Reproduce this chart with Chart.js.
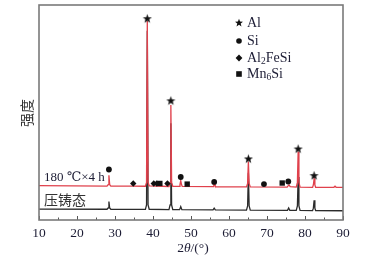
<!DOCTYPE html>
<html>
<head>
<meta charset="utf-8">
<script src="https://cdn.jsdelivr.net/npm/chart.js@4/dist/chart.umd.min.js"></script>
<style>
  html, body { margin: 0; padding: 0; background: #fff; }
  #xrd { display: block; }
</style>
</head>
<body>
<canvas id="xrd" width="387" height="260"></canvas>
<script>
// ── XRD data ───────────────────────────────────────────────
// 180 ℃×4 h (red) pattern
const heatTheta = [10, 27.9, 28.2, 28.4, 28.6, 28.9, 34.5, 38.0, 38.3, 38.5, 38.7, 39.0, 44.2, 44.5, 44.7, 44.9, 45.2,
  46.9, 47.1, 47.3, 47.5, 47.7, 55.8, 56.0, 56.15, 56.3, 56.5, 64.6, 64.9, 65.1, 65.3, 65.6,
  75.3, 75.6, 75.8, 76.1, 77.7, 78.0, 78.2, 78.4, 78.7, 82.0, 82.2, 82.4, 82.6, 82.8, 87.6, 87.9, 88.2, 90];
const heatI = [16.0, 15.8, 16.5, 20.8, 16.5, 15.8, 15.8, 15.7, 17.5, 92.5, 17.5, 15.9, 15.6, 17.5, 53.5, 17.5, 15.7,
  15.6, 16.5, 18.3, 16.5, 15.6, 15.5, 16.3, 17.0, 16.3, 15.5, 15.4, 17.0, 27.2, 17.0, 15.4,
  15.3, 16.0, 16.3, 15.5, 15.3, 17.5, 31.8, 17.5, 15.3, 15.2, 16.3, 19.2, 16.3, 15.2, 15.2, 15.7, 15.2, 15.2];

// 压铸态 (black) pattern
const castTheta = [10, 27.9, 28.2, 28.4, 28.6, 28.9, 38.0, 38.3, 38.5, 38.7, 39.0, 44.2, 44.5, 44.7, 44.9, 45.2,
  47.0, 47.3, 47.6, 55.8, 56.1, 56.4, 64.6, 64.9, 65.1, 65.3, 65.6, 75.4, 75.7, 76.0,
  77.7, 78.0, 78.2, 78.4, 78.7, 82.0, 82.2, 82.4, 82.6, 82.8, 90];
const castI = [5.1, 5.0, 5.6, 8.6, 5.6, 5.0, 4.9, 7.0, 88, 7.0, 5.0, 4.8, 7.0, 45, 7.0, 4.8,
  4.8, 6.2, 4.8, 4.7, 5.5, 4.7, 4.6, 6.5, 22, 6.5, 4.6, 4.5, 5.6, 4.5,
  4.5, 6.5, 20, 6.5, 4.5, 4.4, 5.5, 9.2, 5.5, 4.4, 4.3];

// phase markers
const alTheta = [38.5, 44.7, 65.1, 78.2, 82.4];
const alI     = [93.6, 55.4, 28.4, 33.0, 20.6];
const siTheta = [28.4, 47.3, 56.1, 69.2, 75.6];
const siI     = [23.5, 20.0, 17.7, 16.7, 17.9];
const feTheta = [34.8, 40.2, 41.0, 43.8];
const feI     = [17.0, 17.0, 17.0, 17.0];
const mnTheta = [41.8, 49.0, 74.0];
const mnI     = [17.0, 16.7, 17.2];

const xTicks = [10, 20, 30, 40, 50, 60, 70, 80, 90];
const xMinorTicks = [15, 25, 35, 45, 55, 65, 75, 85];

const SERIF = "'Liberation Serif', 'DejaVu Serif', serif";
const CJK = "'Noto Sans CJK SC', sans-serif";
const TEXT = '#1d1d35';

// ── Filled five-point star for Al ──────────────────────────
function makeStar(size, outer, inner) {
  const c = document.createElement('canvas');
  c.width = size; c.height = size;
  const g = c.getContext('2d');
  drawStar(g, size / 2, size / 2, outer, inner);
  return c;
}
function drawStar(g, cx, cy, outer, inner) {
  g.beginPath();
  for (let i = 0; i < 10; i++) {
    const r = i % 2 === 0 ? outer : inner;
    const a = -Math.PI / 2 + i * Math.PI / 5;
    const px = cx + r * Math.cos(a), py = cy + r * Math.sin(a);
    if (i === 0) g.moveTo(px, py); else g.lineTo(px, py);
  }
  g.closePath();
  g.fillStyle = '#111';
  g.fill();
}
const starImg = makeStar(11, 4.8, 2.0);

const pts = (xs, ys) => xs.map((x, i) => ({ x, y: ys[i] }));

function markerSet(xs, ys, style, radius) {
  return {
    data: pts(xs, ys),
    showLine: false,
    pointStyle: style,
    pointRadius: radius,
    pointBackgroundColor: '#111',
    pointBorderColor: '#111',
    pointBorderWidth: 0,
    order: 0,
  };
}

// ── Frame, inward ticks, titles, labels and legend ──────────
const decor = {
  id: 'decor',
  afterDraw(chart) {
    const { ctx, chartArea: a, scales: { x } } = chart;
    ctx.save();
    // inward ticks on the bottom axis
    ctx.strokeStyle = '#555';
    ctx.lineWidth = 1;
    xTicks.forEach(v => {
      const px = Math.round(x.getPixelForValue(v)) + 0.5;
      ctx.beginPath(); ctx.moveTo(px, a.bottom); ctx.lineTo(px, a.bottom - 4); ctx.stroke();
    });
    xMinorTicks.forEach(v => {
      const px = Math.round(x.getPixelForValue(v)) + 0.5;
      ctx.beginPath(); ctx.moveTo(px, a.bottom); ctx.lineTo(px, a.bottom - 2.5); ctx.stroke();
    });
    // frame
    ctx.strokeStyle = '#7a7a7a';
    ctx.lineWidth = 1.6;
    ctx.strokeRect(a.left, a.top, a.right - a.left, a.bottom - a.top);

    // x title 2θ/(°)
    ctx.fillStyle = TEXT;
    ctx.textBaseline = 'middle';
    const parts = [['2', ''], ['θ', 'italic '], ['/(°)', '']];
    let w = 0;
    parts.forEach(([t, s]) => { ctx.font = s + '13.5px ' + SERIF; w += ctx.measureText(t).width; });
    let tx = (a.left + a.right) / 2 - w / 2 + 2;
    parts.forEach(([t, s]) => {
      ctx.font = s + '13.5px ' + SERIF;
      ctx.textAlign = 'left';
      ctx.fillText(t, tx, 248);
      tx += ctx.measureText(t).width;
    });

    // y title 强度
    ctx.save();
    ctx.translate(27, 113);
    ctx.rotate(-Math.PI / 2);
    ctx.font = '14px ' + CJK;
    ctx.textAlign = 'center';
    ctx.fillStyle = '#333';
    ctx.fillText('强度', 0, 0);
    ctx.restore();

    // curve labels
    ctx.textAlign = 'left';
    ctx.font = '13px ' + SERIF;
    ctx.fillStyle = TEXT;
    ctx.fillText('180 ℃×4 h', 44, 178);
    ctx.font = '14px ' + CJK;
    ctx.fillStyle = '#333';
    ctx.fillText('压铸态', 44, 200);

    // legend
    const lx = 239, tx0 = 247;
    const rows = [
      { y: 23, label: [['Al', 0]] },
      { y: 41, label: [['Si', 0]] },
      { y: 58, label: [['Al', 0], ['2', 1], ['FeSi', 0]] },
      { y: 74, label: [['Mn', 0], ['6', 1], ['Si', 0]] },
    ];
    ctx.fillStyle = '#111';
    drawStar(ctx, lx, 23, 4.2, 1.8);
    ctx.beginPath(); ctx.arc(lx, 41, 2.8, 0, Math.PI * 2); ctx.fill();
    ctx.beginPath();
    ctx.moveTo(lx, 58 - 3.4); ctx.lineTo(lx + 3.4, 58); ctx.lineTo(lx, 58 + 3.4); ctx.lineTo(lx - 3.4, 58);
    ctx.closePath(); ctx.fill();
    ctx.fillRect(lx - 2.8, 74 - 2.8, 5.6, 5.6);
    rows.forEach(r => {
      let cx = tx0;
      r.label.forEach(([t, sub]) => {
        ctx.font = (sub ? '9.5px ' : '14px ') + SERIF;
        ctx.fillStyle = TEXT;
        ctx.fillText(t, cx, r.y + (sub ? 3 : 0));
        cx += ctx.measureText(t).width;
      });
    });
    ctx.restore();
  }
};

new Chart(document.getElementById('xrd'), {
  type: 'line',
  data: {
    datasets: [
      {
        data: pts(heatTheta, heatI),
        borderColor: '#e0414c',
        borderWidth: 1.3,
        pointRadius: 0,
        tension: 0,
        order: 1,
      },
      {
        data: pts(castTheta, castI),
        borderColor: '#2b2b2b',
        borderWidth: 1.3,
        pointRadius: 0,
        tension: 0,
        order: 2,
      },
      markerSet(alTheta, alI, starImg, 5),
      markerSet(siTheta, siI, 'circle', 2.9),
      markerSet(feTheta, feI, 'rectRot', 3.2),
      markerSet(mnTheta, mnI, 'rect', 3.8),
    ],
  },
  options: {
    responsive: false,
    animation: false,
    devicePixelRatio: 1,
    layout: { padding: { left: 39, right: 44, top: 5, bottom: 0 } },
    scales: {
      x: {
        type: 'linear',
        min: 10,
        max: 90,
        afterFit: s => { s.height = 40; },
        afterBuildTicks: s => { s.ticks = xTicks.map(v => ({ value: v })); },
        ticks: {
          autoSkip: false,
          maxRotation: 0,
          padding: 5,
          color: TEXT,
          font: { family: SERIF, size: 13.5 },
        },
        grid: { display: false, drawTicks: false },
        border: { display: false },
      },
      y: {
        min: 0,
        max: 100,
        display: false,
      },
    },
    plugins: {
      legend: { display: false },
      tooltip: { enabled: false },
    },
  },
  plugins: [decor],
});
</script>
</body>
</html>
